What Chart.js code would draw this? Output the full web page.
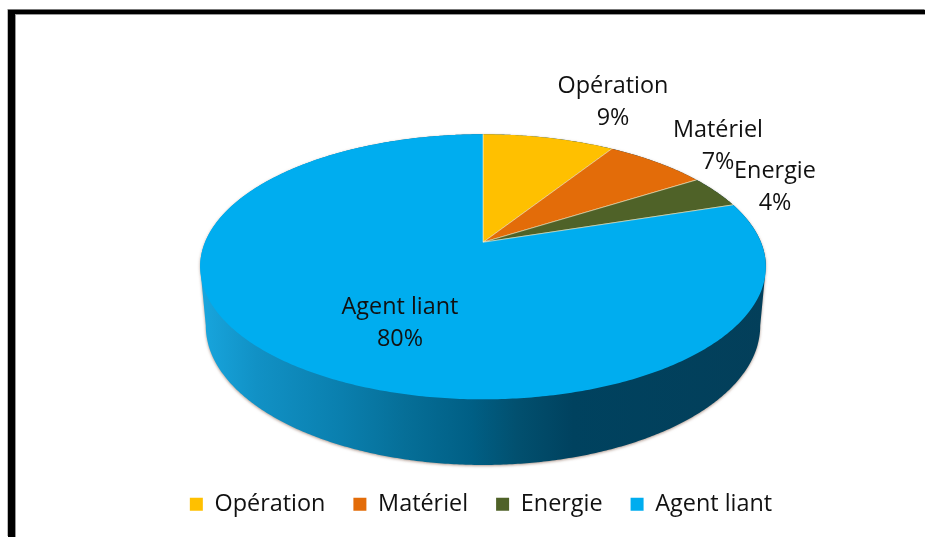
<!DOCTYPE html>
<html lang="fr">
<head>
<meta charset="utf-8">
<title>Répartition des coûts</title>
<script src="https://cdn.jsdelivr.net/npm/chart.js@4"></script>
<style>
  html, body { margin: 0; padding: 0; background: #fff; overflow: hidden; }
  #wrap { position: relative; width: 925px; height: 537px; }
  #frame { position: absolute; left: 8px; top: 10px; right: 0; bottom: 0;
           border-left: 7px solid #000; border-top: 4px solid #000;
           box-shadow: inset 1px 1px 0 #999, -0.5px -1px 0 #777; }
  canvas { position: absolute; left: 0; top: 0; }
</style>
</head>
<body>
<div id="wrap">
  <div id="frame"></div>
  <canvas id="c" width="925" height="537"></canvas>
</div>
<script>
const categories = ['Opération', 'Matériel', 'Energie', 'Agent liant'];
const shares = [9, 7, 4, 80];
const sliceColors = ['#FFC000', '#E36C09', '#4F6228', '#00ADEF'];

// Perspective used to lay the flat pie down (camera looking at the disc from above)
const TILT = { radius: 278, depth: 128, persp: 0.1849 };
// Wall underneath the disc
const WALL = { xScale: 0.98, yScale: 1.05, yShift: 59,
  stops: [[0, '#18A6DE'], [0.1, '#1191C5'], [0.25, '#0A7FAE'], [0.36, '#066F98'],
          [0.48, '#005F85'], [0.56, '#02506F'], [0.66, '#00425F'], [1, '#033F5A']] };
// Where each data label sits
const LABEL_ANCHORS = [[613, 86], [718, 130], [775, 171], [400, 307]];
const LABEL_LINE = 32;
const FONT = '"Open Sans", sans-serif';
const FONT_SIZE = 23.4;

function project(cx, cy, angle) {
  const u = Math.cos(angle), v = Math.sin(angle);
  const d = 1 - TILT.persp * v;
  return [cx + TILT.radius * u / d, cy + TILT.depth * v / d];
}

// Draw each arc of the library laid down in perspective
Chart.ArcElement.prototype.draw = function (ctx) {
  const { x, y, startAngle, endAngle } = this.getProps(['x', 'y', 'startAngle', 'endAngle']);
  const n = Math.max(8, Math.ceil((endAngle - startAngle) * 90));
  ctx.save();
  ctx.beginPath();
  ctx.moveTo(x, y);
  for (let i = 0; i <= n; i++) {
    const p = project(x, y, startAngle + (endAngle - startAngle) * i / n);
    ctx.lineTo(p[0], p[1]);
  }
  ctx.closePath();
  ctx.fillStyle = this.options.backgroundColor;
  ctx.fill();
  // thin pale seams along the straight edges only
  ctx.strokeStyle = 'rgba(255,240,200,0.55)';
  ctx.lineWidth = 1;
  ctx.beginPath();
  const a = project(x, y, startAngle), b = project(x, y, endAngle);
  ctx.moveTo(a[0], a[1]); ctx.lineTo(x, y); ctx.lineTo(b[0], b[1]);
  ctx.stroke();
  ctx.restore();
};

const wallPlugin = {
  id: 'wall',
  afterLayout(chart) {
    // nudge the legend so it sits where the reference has it
    chart.legend.left -= 2;
    chart.legend.right -= 2;
  },
  beforeDatasetsDraw(chart) {
    const arc = chart.getDatasetMeta(0).data[0];
    if (!arc) return;
    const { x, y } = arc;
    const top = [], bottom = [];
    for (let i = 0; i < 720; i++) {
      const p = project(x, y, i * Math.PI / 360);
      top.push(p);
    }
    const midY = (Math.min(...top.map(p => p[1])) + Math.max(...top.map(p => p[1]))) / 2;
    for (const p of top) {
      bottom.push([x + (p[0] - x) * WALL.xScale, midY + WALL.yShift + (p[1] - midY) * WALL.yScale]);
    }
    const extreme = (pts, sign) => pts.reduce((best, p, i) => sign * p[0] > sign * pts[best][0] ? i : best, 0);
    const tl = extreme(top, -1), tr = extreme(top, 1), bl = extreme(bottom, -1), br = extreme(bottom, 1);
    const ctx = chart.ctx;
    ctx.save();
    ctx.beginPath();
    ctx.moveTo(top[tr][0], top[tr][1]);
    ctx.lineTo(bottom[br][0], bottom[br][1]);
    for (let i = br; i <= bl; i++) ctx.lineTo(bottom[i][0], bottom[i][1]); // lower arc
    ctx.lineTo(top[tl][0], top[tl][1]);
    for (let i = tl; i < tl + 720; i++) {
      const p = top[i % 720];
      if (i % 720 >= tl || i % 720 <= tr) ctx.lineTo(p[0], p[1]);
    }
    ctx.closePath();
    const minX = top[tl][0], maxX = top[tr][0];
    const g = ctx.createLinearGradient(minX, 0, maxX, 0);
    WALL.stops.forEach(s => g.addColorStop(s[0], s[1]));
    ctx.fillStyle = g;
    ctx.shadowColor = 'rgba(110,70,50,0.55)';
    ctx.shadowBlur = 3;
    ctx.shadowOffsetY = 1;
    ctx.fill();
    ctx.restore();
  }
};

const labelPlugin = {
  id: 'sliceLabels',
  afterDatasetsDraw(chart) {
    const ctx = chart.ctx;
    ctx.save();
    ctx.font = FONT_SIZE + 'px ' + FONT;
    ctx.fillStyle = '#111';
    ctx.textAlign = 'center';
    ctx.textBaseline = 'middle';
    categories.forEach((name, i) => {
      const [lx, ly] = LABEL_ANCHORS[i];
      ctx.fillText(name, lx, ly);
      ctx.fillText(shares[i] + '%', lx, ly + LABEL_LINE);
    });
    ctx.restore();
  }
};

new Chart(document.getElementById('c'), {
  type: 'pie',
  data: {
    labels: categories,
    datasets: [{ data: shares, backgroundColor: sliceColors, borderWidth: 0 }]
  },
  plugins: [wallPlugin, labelPlugin],
  options: {
    responsive: false,
    animation: false,
    layout: { padding: { left: 41, top: 20, bottom: 11 } },
    plugins: {
      tooltip: { enabled: false },
      legend: {
        position: 'bottom',
        labels: {
          boxWidth: 13, boxHeight: 13, padding: 28, color: '#111',
          font: { family: FONT, size: FONT_SIZE }
        }
      }
    }
  }
});
</script>
</body>
</html>
